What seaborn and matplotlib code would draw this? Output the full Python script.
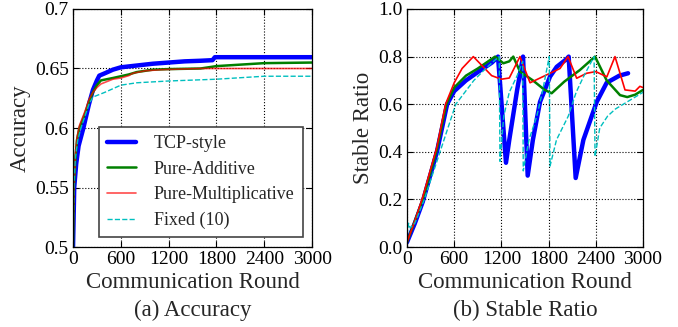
import matplotlib
matplotlib.use("Agg")
import matplotlib.pyplot as plt
import numpy as np
import pandas as pd
import seaborn as sns

#%% Data
# (a) Accuracy
acc_tcp_x = [0, 15, 40, 70, 130, 200, 250, 300, 330, 400, 500, 600, 800, 1000, 1200, 1400, 1600, 1750, 1780, 2000, 3000]
acc_tcp_y = [0.50, 0.55, 0.57, 0.585, 0.60, 0.62, 0.632, 0.640, 0.644, 0.646, 0.649, 0.651, 0.6525, 0.654, 0.655, 0.656, 0.6565, 0.657, 0.6595, 0.6595, 0.6595]

acc_add_x = [0, 10, 30, 50, 80, 150, 200, 250, 300, 350, 500, 700, 800, 1000, 1200, 1600, 1800, 2400, 3000]
acc_add_y = [0.50, 0.55, 0.575, 0.59, 0.60, 0.612, 0.622, 0.630, 0.636, 0.640, 0.642, 0.645, 0.647, 0.649, 0.6495, 0.650, 0.652, 0.6545, 0.655]

acc_mul_x = [0, 10, 30, 50, 80, 150, 200, 250, 300, 350, 500, 600, 700, 750, 900, 1100, 1600, 3000]
acc_mul_y = [0.50, 0.55, 0.578, 0.592, 0.602, 0.614, 0.624, 0.630, 0.634, 0.637, 0.641, 0.642, 0.644, 0.646, 0.648, 0.649, 0.650, 0.650]

acc_fix_x = [0, 10, 30, 60, 100, 150, 200, 250, 400, 600, 800, 1200, 1800, 2400, 3000]
acc_fix_y = [0.50, 0.55, 0.575, 0.59, 0.60, 0.61, 0.62, 0.626, 0.630, 0.636, 0.638, 0.6395, 0.641, 0.6435, 0.6435]

# (b) Stable Ratio
sr_tcp_x = [0, 100, 200, 380, 510, 600, 750, 900, 1080, 1157, 1258, 1300, 1400, 1475, 1534, 1600, 1691, 1818, 1903, 2030, 2055, 2144, 2242, 2412, 2538, 2700, 2810]
sr_tcp_y = [0.02, 0.10, 0.19, 0.40, 0.60, 0.655, 0.70, 0.735, 0.775, 0.80, 0.354, 0.45, 0.66, 0.80, 0.30, 0.45, 0.61, 0.716, 0.757, 0.79, 0.80, 0.29, 0.45, 0.61, 0.69, 0.72, 0.73]

sr_add_x = [0, 100, 200, 380, 500, 600, 750, 900, 1120, 1225, 1300, 1351, 1436, 1600, 1750, 1839, 2000, 2199, 2390, 2538, 2708, 2800, 2900, 3000]
sr_add_y = [0.02, 0.11, 0.20, 0.41, 0.60, 0.67, 0.72, 0.75, 0.80, 0.772, 0.78, 0.80, 0.737, 0.70, 0.66, 0.646, 0.695, 0.744, 0.80, 0.70, 0.638, 0.63, 0.64, 0.66]

sr_mul_x = [0, 100, 200, 380, 490, 600, 700, 843, 1076, 1200, 1300, 1436, 1564, 1818, 1945, 2047, 2157, 2284, 2400, 2540, 2644, 2771, 2900, 2960, 3000]
sr_mul_y = [0.02, 0.11, 0.21, 0.42, 0.60, 0.69, 0.75, 0.80, 0.72, 0.705, 0.71, 0.80, 0.69, 0.73, 0.75, 0.80, 0.709, 0.73, 0.737, 0.715, 0.80, 0.66, 0.655, 0.675, 0.67]

sr_fix_x = [0, 20, 40, 100, 220, 400, 620, 850, 1000, 1100, 1172, 1182, 1230, 1300, 1400, 1470, 1478, 1550, 1650, 1720, 1808, 1818, 1900, 2050, 2150, 2250, 2378, 2390, 2450, 2550, 2650, 2800, 2900, 3000]
sr_fix_y = [0.05, 0.10, 0.08, 0.10, 0.20, 0.38, 0.60, 0.70, 0.75, 0.78, 0.80, 0.36, 0.55, 0.65, 0.72, 0.78, 0.32, 0.45, 0.55, 0.65, 0.80, 0.34, 0.45, 0.55, 0.65, 0.72, 0.80, 0.38, 0.50, 0.55, 0.58, 0.61, 0.63, 0.65]

labels = ['TCP-style', 'Pure-Additive', 'Pure-Multiplicative', 'Fixed (10)']
colors = ['#0000ff', '#008000', '#ff0000', '#00bfbf']
widths = [3.2, 1.8, 1.2, 1.0]
styles = ['-', '-', '-', '--']

acc_series = [(acc_tcp_x, acc_tcp_y), (acc_add_x, acc_add_y), (acc_mul_x, acc_mul_y), (acc_fix_x, acc_fix_y)]
sr_series = [(sr_tcp_x, sr_tcp_y), (sr_add_x, sr_add_y), (sr_mul_x, sr_mul_y), (sr_fix_x, sr_fix_y)]

#%% Style
sns.set_style("ticks")
plt.rcParams['font.family'] = ['Liberation Serif', 'DejaVu Serif']
plt.rcParams['mathtext.fontset'] = 'stix'

fig = plt.figure(figsize=(6.78, 3.27), dpi=100)
ax1 = fig.add_axes([0.1077, 0.2446, 0.3526, 0.7279])
ax2 = fig.add_axes([0.6003, 0.2446, 0.3481, 0.7279])


def draw(ax, series, alphas):
    for (x, y), lab, c, lw, ls, a in zip(series, labels, colors, widths, styles, alphas):
        df = pd.DataFrame({'x': x, 'y': y})
        sns.lineplot(data=df, x='x', y='y', ax=ax, color=c, linewidth=lw,
                     linestyle=ls, label=lab, alpha=a, estimator=None, sort=False)


def style_axes(ax):
    ax.grid(True, linestyle=':', color='black', linewidth=0.8)
    ax.tick_params(direction='in', top=True, right=True, labelsize=14,
                   length=4, width=0.8, colors='black', pad=3)
    for s in ax.spines.values():
        s.set_color('black')
        s.set_linewidth(0.9)
    ax.set_xlim(0, 3000)
    ax.set_xticks(np.arange(0, 3001, 600))
    ax.set_xlabel('Communication Round', fontsize=16.5, labelpad=3)


draw(ax1, acc_series, [1, 1, 0.7, 1])
style_axes(ax1)
ax1.set_ylim(0.5, 0.7)
ax1.set_yticks([0.5, 0.55, 0.6, 0.65, 0.7])
ax1.set_yticklabels(['0.5', '0.55', '0.6', '0.65', '0.7'])
ax1.set_ylabel('Accuracy', fontsize=16.5, labelpad=3)
leg = ax1.legend(loc='lower right', bbox_to_anchor=(0.96, 0.04), fontsize=13,
                 frameon=True, fancybox=False, edgecolor='#444444', framealpha=1,
                 handlelength=1.6, handletextpad=1.0, labelspacing=0.48,
                 borderpad=0.45, borderaxespad=0)
leg.get_frame().set_linewidth(1.2)

draw(ax2, sr_series, [1, 1, 1, 1])
style_axes(ax2)
ax2.set_ylim(0, 1.0)
ax2.set_yticks(np.arange(0, 1.01, 0.2))
ax2.set_yticklabels(['0.0', '0.2', '0.4', '0.6', '0.8', '1.0'])
ax2.set_ylabel('Stable Ratio', fontsize=16.5, labelpad=3)
ax2.get_legend().remove()

fig.text(0.1077 + 0.3526 / 2, 1 - 310 / 327, '(a) Accuracy', ha='center', va='center', fontsize=16.5)
fig.text(0.6003 + 0.3481 / 2, 1 - 310 / 327, '(b) Stable Ratio', ha='center', va='center', fontsize=16.5)

fig.savefig('out.png', dpi=100)
